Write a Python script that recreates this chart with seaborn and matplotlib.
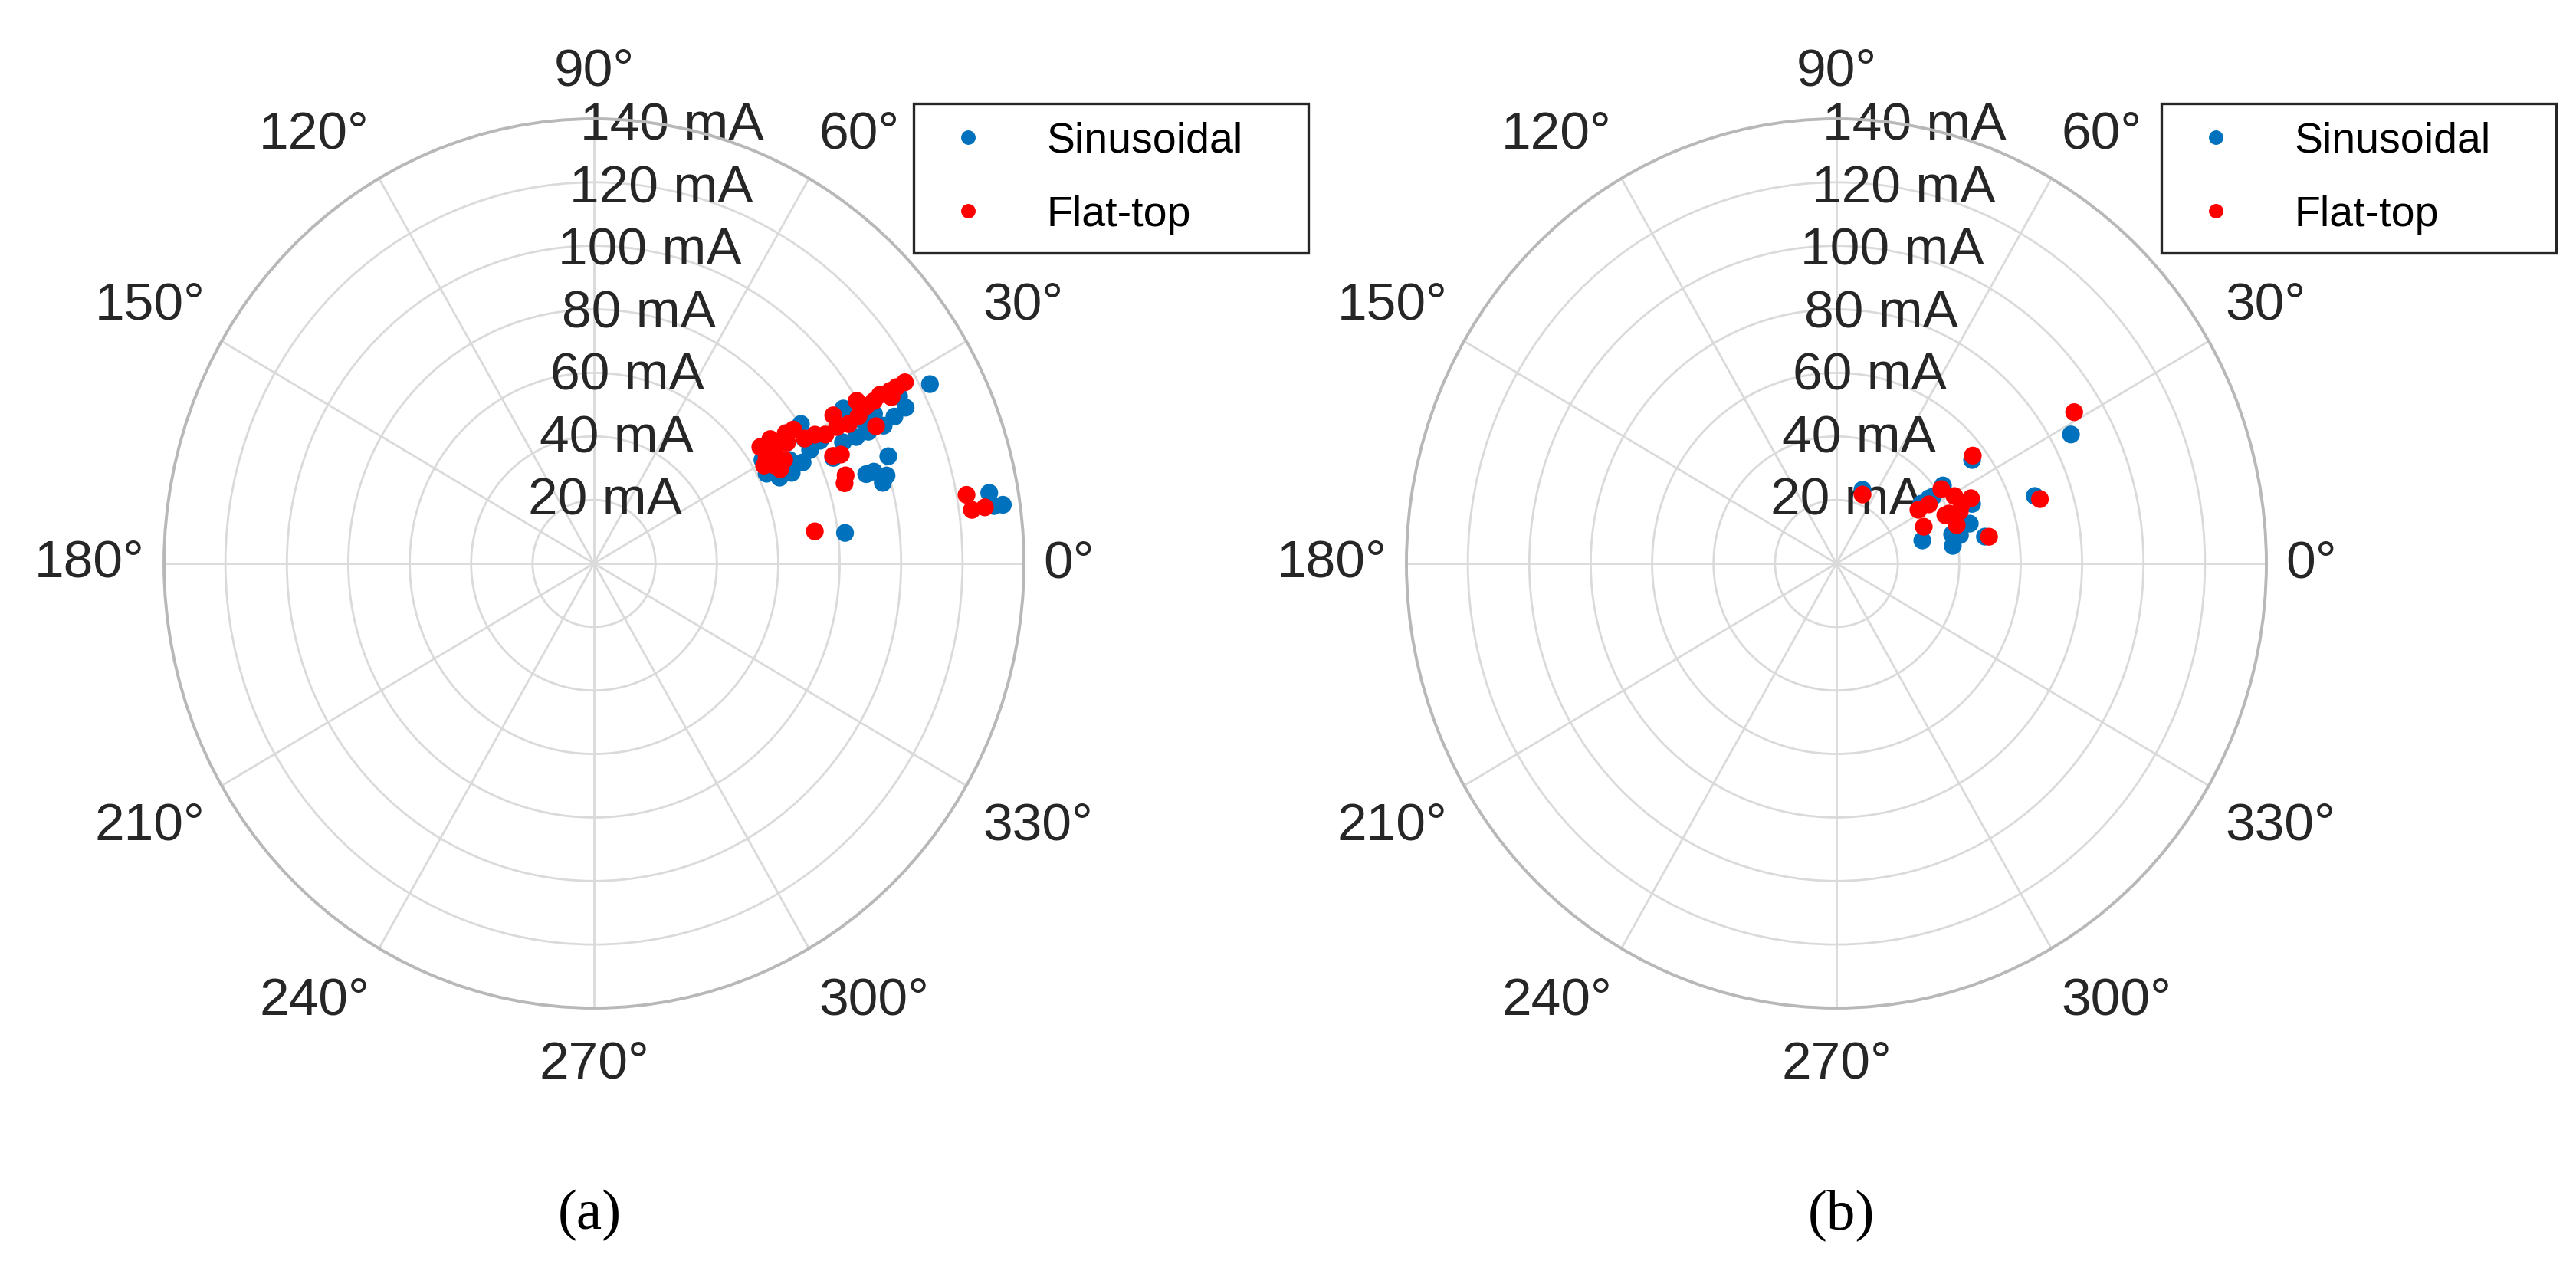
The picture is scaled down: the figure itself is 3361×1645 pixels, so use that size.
import numpy as np
import pandas as pd
import matplotlib
matplotlib.use("Agg")
import matplotlib.pyplot as plt
from matplotlib.lines import Line2D
import seaborn as sns

# ---------------- data (phase in degrees, magnitude in mA) ----------------
a_sin_theta = [27.3, 19.4, 17.6, 17.6, 16.2, 15.1, 6.7, 9.8, 7.9, 7.9,
               25.8, 25.3, 24.7, 24.9, 25.0, 25.2, 23.1, 31.0, 33.1, 29.7,
               25.1, 23.9, 24.1, 26.7, 26.9, 27.9, 27.7, 27.3, 27.3, 27.6,
               27.1, 30.7]
a_sin_r = [123.1, 101.6, 93.0, 95.6, 99.2, 97.4, 82.3, 130.6, 134.4, 131.5,
           112.7, 108.2, 103.8, 98.5, 94.2, 89.6, 84.7, 94.7, 80.4, 79.0,
           75.0, 70.4, 66.2, 62.9, 78.9, 112.4, 83.1, 98.3, 102.6, 66.2,
           71.5, 63.8]
a_flat_theta = [29.4, 29.4, 28.4, 29.7, 29.3, 30.9, 28.3, 27.9, 30.9, 28.5,
                28.3, 29.4, 29.8, 25.2, 23.5, 23.1, 18.7, 17.2, 8.0, 10.1,
                7.8, 7.9, 34.1, 34.3, 33.3, 31.2, 31.4, 29.1, 27.8, 27.8,
                26.1, 30.6, 33.0, 29.2, 29.4]
a_flat_r = [116.2, 110.7, 110.1, 107.2, 104.5, 99.7, 97.8, 93.8, 90.8, 90.0,
            85.6, 82.6, 79.1, 101.5, 84.9, 87.4, 86.5, 85.4, 72.6, 123.2,
            124.2, 128.5, 65.4, 69.5, 74.7, 73.5, 68.6, 63.4, 66.3, 70.0,
            67.5, 65.3, 77.4, 101.5, 113.1]

b_sin_theta = [28.0, 36.4, 18.2, 9.9, 14.5, 8.3, 12.5, 16.1, 23.0, 35.3,
               33.8, 34.2, 13.7, 69.9, 34.2]
b_sin_r = [86.5, 54.9, 68.0, 49.1, 28.9, 38.3, 41.2, 45.2, 48.0, 42.5,
           37.8, 33.5, 38.8, 24.7, 36.5]
b_flat_theta = [31.6, 37.4, 17.0, 9.6, 34.4, 28.9, 25.1, 31.7, 32.3, 22.1,
                23.2, 17.1, 22.2, 24.7, 68.6, 23.2]
b_flat_r = [90.9, 55.9, 69.3, 50.4, 41.4, 43.9, 48.4, 35.4, 31.6, 30.7,
            38.6, 41.0, 43.4, 45.0, 23.3, 39.9]

series_names = ["Sinusoidal", "Flat-top"]
series_colors = {"Sinusoidal": "#0072BD", "Flat-top": "#FF0000"}
r_ticks = [20, 40, 60, 80, 100, 120, 140]
theta_ticks = list(range(0, 360, 30))
panel_labels = ["(a)", "(b)"]

# ---------------- style ----------------
sns.set_theme(style="whitegrid")
plt.rcParams["font.family"] = ["Liberation Sans", "DejaVu Sans"]
TXT = "#262626"

W, H = 3362, 1645
DPI = 200
fig = plt.figure(figsize=(W / DPI, H / DPI), dpi=DPI)


def make_df(st, sr, ft, fr):
    d1 = pd.DataFrame({"theta": np.deg2rad(st), "r": sr, "Series": series_names[0]})
    d2 = pd.DataFrame({"theta": np.deg2rad(ft), "r": fr, "Series": series_names[1]})
    return pd.concat([d1, d2], ignore_index=True)


def align_for(angle):
    a = angle % 360
    if a == 0:
        return "left", "center"
    if a < 90:
        return "left", "bottom"
    if a == 90:
        return "center", "bottom"
    if a < 180:
        return "right", "bottom"
    if a == 180:
        return "right", "center"
    if a < 270:
        return "right", "top"
    if a == 270:
        return "center", "top"
    return "left", "top"


panels = [
    (make_df(a_sin_theta, a_sin_r, a_flat_theta, a_flat_r), 775, 1192, 769),
    (make_df(b_sin_theta, b_sin_r, b_flat_theta, b_flat_r), 2396, 2820, 2402),
]

RX, RY, CY = 561, 580, 735
LEG_W, LEG_TOP = 515, 135

for (df, cx, leg_x, cap_x), cap in zip(panels, panel_labels):
    ax = fig.add_axes([(cx - RX) / W, (H - (CY + RY)) / H, 2 * RX / W, 2 * RY / H],
                      projection="polar")
    ax.set_aspect("auto")
    sns.scatterplot(data=df, x="theta", y="r", hue="Series", palette=series_colors,
                    s=70, linewidth=0, legend=False, ax=ax, zorder=3)
    ax.set_xlabel("")
    ax.set_ylabel("")
    ax.set_rlim(0, 140)
    ax.set_rticks(r_ticks)
    ax.set_yticklabels([])
    ax.set_thetagrids(theta_ticks, labels=[""] * len(theta_ticks))
    ax.grid(True, color="#dadada", linewidth=1.0)
    ax.spines["polar"].set_color("#b8b8b8")
    ax.spines["polar"].set_linewidth(1.4)

    # angle labels just outside the rim (MATLAB-like edge alignment)
    for t in theta_ticks:
        rad = np.deg2rad(t)
        c, s_ = np.cos(rad), np.sin(rad)
        u = c * 1.045
        v = s_ * (1.05 if s_ >= -1e-9 else 1.072)
        ha, va = align_for(t)
        ax.text(0.5 + 0.5 * u, 0.5 + 0.5 * v, f"{t}°", transform=ax.transAxes,
                ha=ha, va=va, fontsize=25, color=TXT)

    # radial labels
    for rv in r_ticks:
        ax.text(np.deg2rad(79.5), rv, f"{rv} mA", ha="center", va="center",
                fontsize=25, color=TXT, zorder=2)

    handles = [Line2D([], [], marker="o", linestyle="", markersize=6.8,
                      markerfacecolor=series_colors[n], markeredgewidth=0, label=n)
               for n in series_names]
    leg = ax.legend(handles=handles, loc="upper left", mode="expand",
                    bbox_to_anchor=(leg_x / W, (H - LEG_TOP) / H, LEG_W / W, 0),
                    bbox_transform=fig.transFigure, borderaxespad=0,
                    fontsize=20, frameon=True, fancybox=False, framealpha=1,
                    edgecolor="#262626", handlelength=1.7, handletextpad=1.0,
                    borderpad=0.42, labelspacing=0.8)
    leg.get_frame().set_linewidth(1.2)
    leg.set_zorder(10)
    for t in leg.get_texts():
        t.set_color("black")

    fig.text(cap_x / W, 1 - 1585 / H, cap, ha="center", va="center",
             fontsize=27, family=["Liberation Serif", "DejaVu Serif"], color="black")

fig.savefig("out.png", dpi=DPI, facecolor="white")
